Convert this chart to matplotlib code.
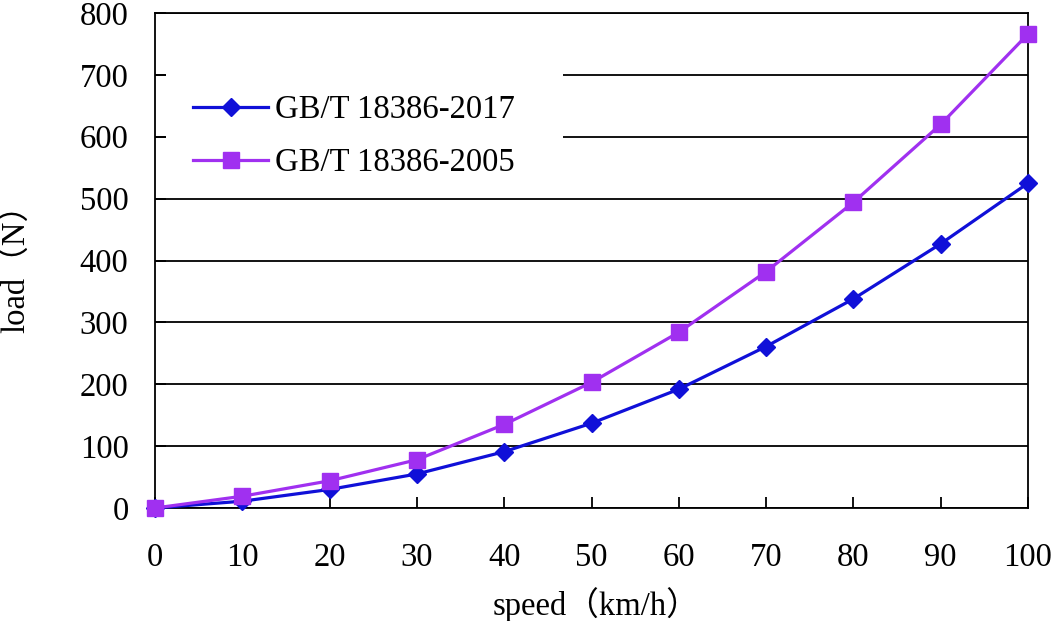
import numpy as np
import matplotlib
matplotlib.use("Agg")
import matplotlib.pyplot as plt
from matplotlib.patches import Rectangle

plt.rcParams['font.family'] = ['Liberation Serif', 'Noto Sans CJK SC', 'DejaVu Sans']

# data
speed = [0, 10, 20, 30, 40, 50, 60, 70, 80, 90, 100]
load_2017 = [0, 11, 30, 55, 91, 137, 192, 261, 338, 427, 525]
load_2005 = [0, 19, 44, 78, 135, 203, 284, 382, 494, 620, 766]
name_2017 = "GB/T 18386-2017"
name_2005 = "GB/T 18386-2005"
yticks = [0, 100, 200, 300, 400, 500, 600, 700, 800]

fs = 23.5

fig = plt.figure(figsize=(10.54, 6.21), dpi=100)
ax = fig.add_axes([155 / 1054, 1 - 508 / 621, 873 / 1054, 495 / 621])

ax.plot(speed, load_2017, color="#1010d8", lw=2.3, marker="D", ms=9.5,
        label=name_2017, zorder=4, clip_on=False)
ax.plot(speed, load_2005, color="#a030f0", lw=2.3, marker="s", ms=11,
        label=name_2005, zorder=5, clip_on=False)

ax.set_xlim(0, 100)
ax.set_ylim(0, 800)
ax.set_xticks(speed)
ax.set_yticks(yticks)
ax.grid(axis="y", color="black", lw=1.3)
ax.set_axisbelow(True)
ax.tick_params(direction="in", length=8, width=1.3, labelsize=fs)
ax.tick_params(axis="y", pad=19)
ax.tick_params(axis="x", pad=25)
for s in ax.spines.values():
    s.set_linewidth(1.3)

ax.set_xlabel("speed（km/h）", fontsize=fs)
ax.set_ylabel("load（N）", fontsize=fs)
ax.xaxis.set_label_coords(0.505, -0.16)
ax.yaxis.set_label_coords(-0.141, 0.5)

# white legend background that hides the gridlines
ax.add_patch(Rectangle((0.0126, 0.663), 0.455, 0.3, transform=ax.transAxes,
                       facecolor="white", edgecolor="none", zorder=3))
leg = ax.legend(loc="center left", bbox_to_anchor=(0.0435, 0.7505),
                frameon=False, fontsize=fs, borderpad=0, borderaxespad=0,
                handlelength=2.3, handletextpad=0.2, labelspacing=0.68)
leg.set_zorder(6)

fig.savefig("out.png", dpi=100)
